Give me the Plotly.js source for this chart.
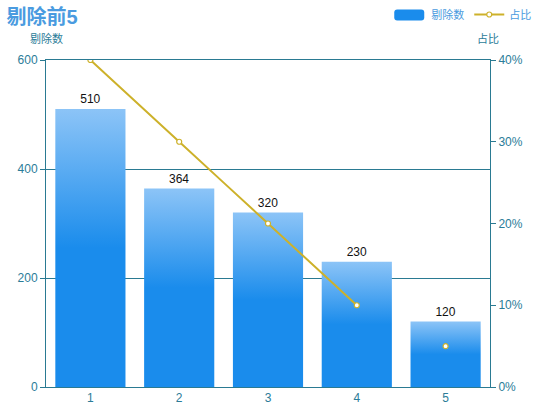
<!DOCTYPE html>
<html>
<head>
<meta charset="utf-8">
<script src="https://cdn.plot.ly/plotly-3.0.1.min.js"></script>
<style>
  html, body { margin: 0; padding: 0; background: #fff; }
  #graph { width: 550px; height: 420px; }
</style>
</head>
<body>
<div id="graph"></div>
<script>
// chart data
var categories = ['1', '2', '3', '4', '5'];
var counts = [510, 364, 320, 230, 120];
var shares = [0.40, 0.30, 0.20, 0.10, 0.05];
var leftTicks = [0, 200, 400, 600];
var rightTicks = [0, 0.1, 0.2, 0.3, 0.4];
var rightTickText = ['0%', '10%', '20%', '30%', '40%'];

var teal = '#2b7c98';
var axisLine = '#2a7a92';
var gold = '#cdb12a';
var font = '"Liberation Sans", "Noto Sans CJK SC", sans-serif';

var barTrace = {
  type: 'bar',
  name: '剔除数',
  x: categories,
  y: counts,
  text: counts.map(String),
  textposition: 'outside',
  textfont: {color: '#111', size: 12, family: font},
  cliponaxis: false,
  marker: {color: '#1a8cec'},
  hoverinfo: 'none'
};

// line over first four points, last point shown as marker only
var lineTrace = {
  type: 'scatter',
  name: '占比',
  x: categories.slice(0, 4),
  y: shares.slice(0, 4),
  yaxis: 'y2',
  mode: 'lines+markers',
  line: {color: gold, width: 2, shape: 'spline', smoothing: 0.8},
  marker: {size: 5, color: '#fff', line: {color: gold, width: 1.2}},
  hoverinfo: 'none'
};

var lastPoint = {
  type: 'scatter',
  x: categories.slice(4),
  y: shares.slice(4),
  yaxis: 'y2',
  mode: 'markers',
  showlegend: false,
  marker: {size: 5, color: '#fff', line: {color: gold, width: 1.2}},
  hoverinfo: 'none'
};

var layout = {
  width: 550,
  height: 420,
  margin: {l: 46, r: 60, t: 60, b: 33},
  paper_bgcolor: '#fff',
  plot_bgcolor: '#fff',
  font: {family: font, color: teal, size: 12},
  bargap: 0.21,
  showlegend: true,
  legend: {
    orientation: 'h', xref: 'container', yref: 'container',
    x: 0.975, xanchor: 'right', y: 1.0, yanchor: 'top',
    font: {size: 11, color: '#4a9be0'}, bgcolor: 'rgba(0,0,0,0)'
  },
  title: {
    text: '<b>剔除前5</b>', xref: 'container', yref: 'container',
    x: 0.012, xanchor: 'left', y: 0.96, yanchor: 'middle',
    font: {size: 20, color: '#4a9be0', family: font}
  },
  xaxis: {
    type: 'category',
    showline: true, mirror: true, linecolor: axisLine, linewidth: 1,
    ticks: '', tickfont: {size: 12, color: teal},
    showgrid: false, zeroline: false, fixedrange: true
  },
  yaxis: {
    range: [0, 600], tickvals: leftTicks,
    showline: true, linecolor: axisLine, linewidth: 1,
    ticks: 'outside', ticklen: 5, tickcolor: axisLine,
    tickfont: {size: 12, color: teal},
    showgrid: true, gridcolor: axisLine, gridwidth: 1,
    zeroline: false, fixedrange: true
  },
  yaxis2: {
    overlaying: 'y', side: 'right', range: [0, 0.4],
    tickvals: rightTicks, ticktext: rightTickText,
    showline: true, linecolor: axisLine, linewidth: 1,
    ticks: 'outside', ticklen: 5, tickcolor: axisLine,
    tickfont: {size: 12, color: teal},
    showgrid: false, zeroline: false, fixedrange: true
  },
  annotations: [
    {text: '剔除数', xref: 'paper', yref: 'paper', x: 0, y: 1.067,
     xanchor: 'center', yanchor: 'middle', showarrow: false,
     font: {size: 11, color: teal}},
    {text: '占比', xref: 'paper', yref: 'paper', x: 0.995, y: 1.067,
     xanchor: 'center', yanchor: 'middle', showarrow: false,
     font: {size: 11, color: teal}}
  ]
};

Plotly.newPlot('graph', [barTrace, lineTrace, lastPoint], layout,
  {displayModeBar: false, staticPlot: true}).then(function(gd) {
  // vertical gradient on the bars (light top -> solid blue)
  var svg = gd.querySelector('svg.main-svg');
  var ns = 'http://www.w3.org/2000/svg';
  var defs = svg.querySelector('defs') || svg.insertBefore(document.createElementNS(ns, 'defs'), svg.firstChild);
  var grad = document.createElementNS(ns, 'linearGradient');
  grad.setAttribute('id', 'barGrad');
  grad.setAttribute('x1', '0'); grad.setAttribute('y1', '0');
  grad.setAttribute('x2', '0'); grad.setAttribute('y2', '1');
  [['0', '#8cc4f7'], ['0.5', '#1a8cec'], ['1', '#1a8cec']].forEach(function(s) {
    var stop = document.createElementNS(ns, 'stop');
    stop.setAttribute('offset', s[0]);
    stop.setAttribute('stop-color', s[1]);
    grad.appendChild(stop);
  });
  defs.appendChild(grad);
  gd.querySelectorAll('.bars .point path').forEach(function(p) {
    p.style.fill = 'url(#barGrad)';
  });
  // legend bar icon: wide rounded swatch like the reference
  gd.querySelectorAll('.legend .legendpoints path').forEach(function(p) {
    if (p.style.fill === 'rgb(26, 140, 236)') {
      p.setAttribute('d', 'M-14,-5h24a3,3 0 0 1 3,3v5a3,3 0 0 1 -3,3h-24a3,3 0 0 1 -3,-3v-5a3,3 0 0 1 3,-3z');
      p.style.fill = '#1a8cec';
    }
  });
});
</script>
</body>
</html>
